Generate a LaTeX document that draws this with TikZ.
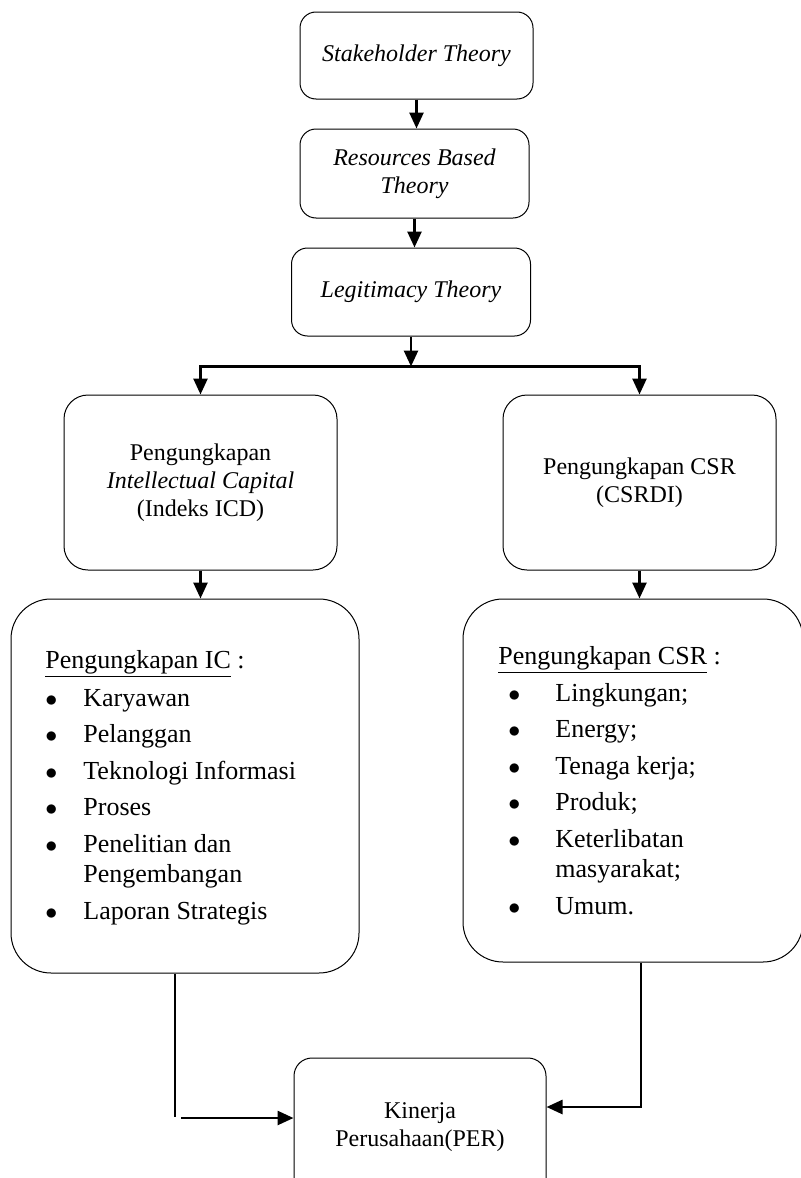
\documentclass[tikz,border=0pt]{standalone}
\usepackage{fontspec}
\setmainfont{Liberation Serif}
\usetikzlibrary{arrows.meta}

\newcommand{\icbul}{\makebox[19pt][l]{$\bullet$}}
\newcommand{\csrbul}{\makebox[28.5pt][l]{\hspace*{5pt}$\bullet$}}

\begin{document}
\begin{tikzpicture}[
    x=0.5pt, y=-0.5pt,
    font=\fontsize{12}{14}\selectfont,
    theory/.style={rectangle, draw, rounded corners=8pt, line width=0.5pt, align=center, font=\fontsize{12}{14}\selectfont\itshape},
    disc/.style={rectangle, draw, rounded corners=12pt, line width=0.5pt, align=center, minimum width=136.5pt, minimum height=87.5pt},
    listbox/.style={rectangle, draw, rounded corners=20pt, line width=0.5pt},
    listtext/.style={anchor=base west, align=left, inner sep=0pt, font=\fontsize{13}{15}\selectfont},
    result/.style={rectangle, draw, rounded corners=9pt, line width=0.5pt, align=center, minimum width=126pt, minimum height=69pt},
    arr/.style={line width=1.3pt, -{Triangle[width=7pt,length=8pt]}},
    link/.style={line width=1.3pt}
]
\useasboundingbox (0,0) rectangle (801,1178);

% Nodes
\node[theory, minimum width=116.5pt, minimum height=43.5pt] (st) at (416.5,55.5) {Stakeholder Theory};
\node[theory, minimum width=114.5pt, minimum height=44.5pt] (rb) at (414.5,173.5) {Resources Based\\Theory};
\node[theory, minimum width=119.5pt, minimum height=44pt] (lt) at (411,292) {Legitimacy Theory};
\node[disc] (ic) at (200.5,482.5) {Pengungkapan\\\textit{Intellectual Capital}\\(Indeks ICD)};
\node[disc] (csr) at (639.5,482.5) {Pengungkapan CSR\\(CSRDI)};
\node[listbox, minimum width=174pt, minimum height=187pt] (icl) at (185,786) {};
\node[listbox, minimum width=170pt, minimum height=181.5pt] (csrl) at (633,780.5) {};
\node[result] (per) at (420,1127) {Kinerja\\Perusahaan(PER)};

% List texts (anchored on the last line)
\node[listtext] (ictext) at (45,919) {\underline{Pengungkapan IC} :\\[3.8pt]
  \icbul Karyawan\\[3.3pt]
  \icbul Pelanggan\\[3.3pt]
  \icbul Teknologi Informasi\\[3.3pt]
  \icbul Proses\\[3.3pt]
  \icbul Penelitian dan\\
  \hspace*{19pt}Pengembangan\\[3.3pt]
  \icbul Laporan Strategis};
\node[listtext] (csrtext) at (498,914) {\underline{Pengungkapan CSR} :\\[3.3pt]
  \csrbul Lingkungan;\\[3.3pt]
  \csrbul Energy;\\[3.3pt]
  \csrbul Tenaga kerja;\\[3.3pt]
  \csrbul Produk;\\[3.3pt]
  \csrbul Keterlibatan\\
  \hspace*{28.5pt}masyarakat;\\[3.3pt]
  \csrbul Umum.};

% Arrows
\coordinate (split) at ([yshift=-15pt]lt.south);
\draw[arr] (st.south) -- (st.south |- rb.north);
\draw[arr] (rb.south) -- (rb.south |- lt.north);
\draw[arr] (lt.south) -- (split);
\draw[arr] (split) -| (ic.north);
\draw[arr] (split) -| (csr.north);
\draw[arr] (ic.south) -- (ic.south |- icl.north);
\draw[arr] (csr.south) -- (csr.south |- csrl.north);

\coordinate (icfoot) at (175,1117);
\coordinate (icgo) at (181,1118);
\coordinate (csrfoot) at (641,1107);
\draw[link] (icl.south -| icfoot) -- (icfoot);
\draw[arr] (icgo) -- (icgo -| per.west);
\draw[arr] (csrl.south -| csrfoot) -- (csrfoot) -- (csrfoot -| per.east);

\end{tikzpicture}
\end{document}
